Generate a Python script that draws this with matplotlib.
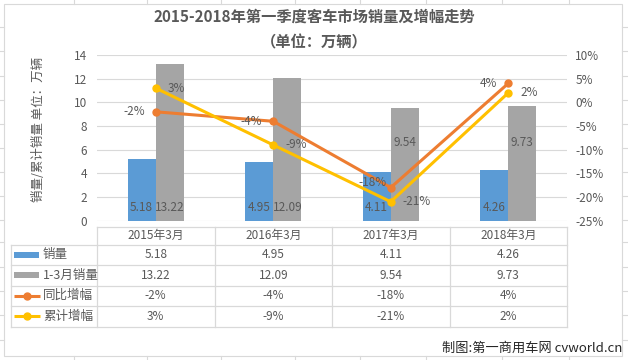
import numpy as np
import matplotlib.pyplot as plt
from matplotlib.patches import Rectangle
from matplotlib.ticker import FuncFormatter, MultipleLocator

plt.rcParams['font.family'] = ['Noto Sans CJK SC', 'DejaVu Sans']

# data
categories = ['2015年3月', '2016年3月', '2017年3月', '2018年3月']
sales = [5.18, 4.95, 4.11, 4.26]          # 销量 (万辆)
sales_q1 = [13.22, 12.09, 9.54, 9.73]     # 1-3月销量 (万辆)
yoy = [-2, -4, -18, 4]                    # 同比增幅 (%)
cum = [3, -9, -21, 2]                     # 累计增幅 (%)
series_names = ['销量', '1-3月销量', '同比增幅', '累计增幅']

BLUE = '#5B9BD5'
GRAY = '#A5A5A5'
ORANGE = '#ED7D31'
YELLOW = '#FFC000'
TXT = '#595959'
GRID = '#D9D9D9'

W, H = 628, 360
fig = plt.figure(figsize=(W / 100, H / 100), dpi=100)


def fx(px):
    return px / W


def fy(py):
    return 1 - py / H


# plot area in pixels
PL, PR, PT, PB = 97, 567, 55, 220.7

###############################################################################
# background layer: chart area + table
ov = fig.add_axes([0, 0, 1, 1])
ov.set_xlim(0, W)
ov.set_ylim(H, 0)
ov.axis('off')
ov.set_zorder(-1)

# excel cell grid peeking around the chart area
for gx in [74, 147, 221, 295, 360, 426, 502, 569]:
    ov.plot([gx, gx], [0, 3.5], color=GRID, lw=0.8)
    ov.plot([gx, gx], [355.5, H], color=GRID, lw=0.8)
for gy in [27, 51, 76, 100, 124, 148, 172, 196, 220, 242, 267, 291, 315, 340]:
    ov.plot([0, 3.5], [gy, gy], color=GRID, lw=0.8)
    ov.plot([621.5, W], [gy, gy], color=GRID, lw=0.8)
ov.add_patch(Rectangle((3.5, 3.5), 618, 352, facecolor='white', edgecolor=GRID, lw=0.8))

# data table
col_edges = np.linspace(PL, PR, len(categories) + 1)
col_mid = (col_edges[:-1] + col_edges[1:]) / 2
row_edges = [227.3, 244.5, 265, 285.5, 306, 326.5]
TL = 10.7
ov.plot([PL, PR], [row_edges[0]] * 2, color=GRID, lw=0.9)
for ry in row_edges[1:]:
    ov.plot([TL, PR], [ry, ry], color=GRID, lw=0.9)
ov.plot([TL, TL], [row_edges[1], row_edges[-1]], color=GRID, lw=0.9)
for cx in col_edges:
    ov.plot([cx, cx], [row_edges[0], row_edges[-1]], color=GRID, lw=0.9)

for cx, lab in zip(col_mid, categories):
    ov.text(cx, (row_edges[0] + row_edges[1]) / 2, lab, ha='center', va='center',
            fontsize=8.5, color=TXT)

rows = [
    ['%.2f' % v for v in sales],
    ['%.2f' % v for v in sales_q1],
    ['%d%%' % v for v in yoy],
    ['%d%%' % v for v in cum],
]
row_colors = [BLUE, GRAY, ORANGE, YELLOW]
for r, (vals, name, c) in enumerate(zip(rows, series_names, row_colors)):
    yc = (row_edges[r + 1] + row_edges[r + 2]) / 2
    for cx, s in zip(col_mid, vals):
        ov.text(cx, yc, s, ha='center', va='center', fontsize=8.5, color=TXT)
    if r < 2:
        ov.add_patch(Rectangle((14, yc - 3), 25, 6, facecolor=c, edgecolor='none'))
    else:
        ov.plot([14, 40], [yc, yc], color=c, lw=2.2, solid_capstyle='butt')
        ov.plot([27], [yc], 'o', color=c, ms=5)
    ov.text(43, yc, name, ha='left', va='center', fontsize=9, color=TXT)

###############################################################################
# chart
ax = fig.add_axes([fx(PL), fy(PB), fx(PR) - fx(PL), fy(PT) - fy(PB)])
ax.patch.set_visible(False)
x = np.arange(len(categories))
bw = 0.24
ax.bar(x - bw / 2, sales, bw, color=BLUE, zorder=2)
ax.bar(x + bw / 2, sales_q1, bw, color=GRAY, zorder=2)
ax.set_xlim(-0.5, len(categories) - 0.5)
ax.set_ylim(0, 14)
ax.yaxis.set_major_locator(MultipleLocator(2))
ax.grid(axis='y', color=GRID, lw=0.8)
ax.set_axisbelow(True)
ax.set_xticks([])
ax.tick_params(axis='y', length=0, pad=7, labelsize=8.5, labelcolor=TXT)
for sp in ax.spines.values():
    sp.set_visible(False)

# bar labels
for xi, v in zip(x, sales):
    ax.annotate('%.2f' % v, (xi - bw / 2, 0), xytext=(0, 9.5), textcoords='offset points',
                ha='center', va='center', fontsize=8.5, color=TXT)
for xi, v in zip(x, sales_q1):
    y_lab = 0 if v > 10 else 6.6
    off = 9.5 if v > 10 else 0
    ax.annotate('%.2f' % v, (xi + bw / 2, y_lab), xytext=(0, off), textcoords='offset points',
                ha='center', va='center', fontsize=8.5, color=TXT)

ax2 = ax.twinx()
ax2.set_ylim(-25, 10)
ax2.yaxis.set_major_locator(MultipleLocator(5))
ax2.yaxis.set_major_formatter(FuncFormatter(lambda v, p: '%d%%' % v))
ax2.tick_params(axis='y', length=0, pad=6, labelsize=8.5, labelcolor=TXT)
for sp in ax2.spines.values():
    sp.set_visible(False)
ax2.plot(x, yoy, color=ORANGE, lw=2.2, marker='o', ms=5)
ax2.plot(x, cum, color=YELLOW, lw=2.2, marker='o', ms=5)

for i, (xi, v) in enumerate(zip(x, yoy)):
    dx, dy = (-3, 4) if v < -10 else (-8, 0)
    ax2.annotate('%d%%' % v, (xi, v), xytext=(dx, dy), textcoords='offset points',
                 ha='right', va='center', fontsize=8.5, color=TXT)
for xi, v in zip(x, cum):
    ax2.annotate('%d%%' % v, (xi, v), xytext=(8.5, 0), textcoords='offset points',
                 ha='left', va='center', fontsize=8.5, color=TXT)

ax.set_ylabel('销量/累计销量 单位：万辆', fontsize=9, color=TXT)
ax.yaxis.set_label_coords(-0.11, 0.55)

###############################################################################
# titles
fig.text(0.5, fy(17), '2015-2018年第一季度客车市场销量及增幅走势', ha='center', va='center',
         fontsize=11, fontweight='bold', color=TXT)
fig.text(0.5, fy(42), '（单位：万辆）', ha='center', va='center',
         fontsize=11, fontweight='bold', color=TXT)
fig.text(fx(622), fy(348), '制图:第一商用车网 cvworld.cn', ha='right', va='center',
         fontsize=9.5, color='#262626')

fig.savefig('out.png', dpi=100)
plt.close()
